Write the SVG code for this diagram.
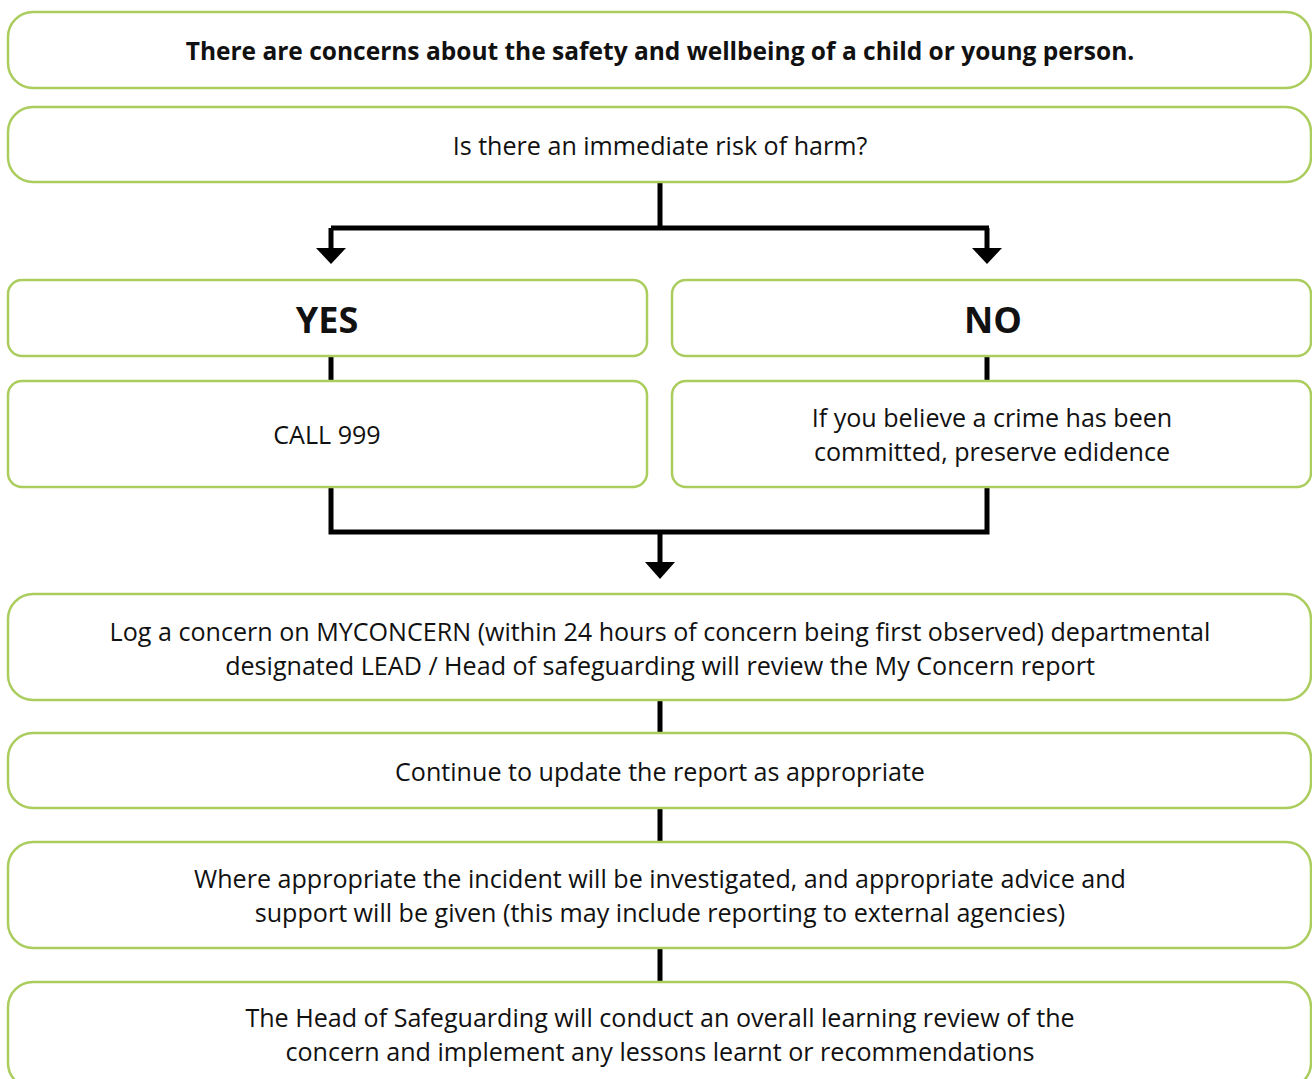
<svg xmlns="http://www.w3.org/2000/svg" width="1312" height="1079" viewBox="0 0 1312 1079">
<style>
.box{fill:#fff;stroke:#aacd5e;stroke-width:2.5}
.t{font-family:"Open Sans","Noto Sans",sans-serif;font-size:25.1px;fill:#111;text-anchor:middle}
.b{font-weight:bold;font-size:24.5px}
.big{font-size:36px;font-weight:bold}
.c{stroke:#000;stroke-width:5;fill:none}
.ah{fill:#000}
</style>
<rect width="1312" height="1079" fill="#fff"/>
<g id="connectors">
<path class="c" d="M660 183V228M331 228H989M331 228V250M987 228V250"/>
<polygon class="ah" points="316,248 346,248 331,264"/>
<polygon class="ah" points="972,248 1002,248 987,264"/>
<path class="c" d="M331 356V381M987 356V381"/>
<path class="c" d="M331 487V532H987V487M660 532V564"/>
<polygon class="ah" points="645,562 675,562 660,579"/>
<path class="c" d="M660 700V733M660 808V842M660 948V982"/>
</g>
<g id="n1"><rect class="box" x="8" y="12" width="1303" height="76" rx="25"/><text class="t b" x="660" y="60">There are concerns about the safety and wellbeing of a child or young person.</text></g>
<g id="n2"><rect class="box" x="8" y="107" width="1303" height="75" rx="25"/><text class="t" x="660" y="155">Is there an immediate risk of harm?</text></g>
<g id="yes"><rect class="box" x="8" y="280" width="639" height="76" rx="14"/><text class="t big" x="327" y="333">YES</text></g>
<g id="no"><rect class="box" x="672" y="280" width="639" height="76" rx="14"/><text class="t big" x="993" y="333">NO</text></g>
<g id="call"><rect class="box" x="8" y="381" width="639" height="106" rx="14"/><text class="t" x="327" y="444">CALL 999</text></g>
<g id="crime"><rect class="box" x="672" y="381" width="639" height="106" rx="14"/><text class="t" x="992" y="427">If you believe a crime has been</text><text class="t" x="992" y="461">committed, preserve edidence</text></g>
<g id="log"><rect class="box" x="8" y="594" width="1303" height="106" rx="25"/><text class="t" x="660" y="641">Log a concern on MYCONCERN (within 24 hours of concern being first observed) departmental</text><text class="t" x="660" y="675">designated LEAD / Head of safeguarding will review the My Concern report</text></g>
<g id="cont"><rect class="box" x="8" y="733" width="1303" height="75" rx="25"/><text class="t" x="660" y="781">Continue to update the report as appropriate</text></g>
<g id="where"><rect class="box" x="8" y="842" width="1303" height="106" rx="25"/><text class="t" x="660" y="888">Where appropriate the incident will be investigated, and appropriate advice and</text><text class="t" x="660" y="922">support will be given (this may include reporting to external agencies)</text></g>
<g id="head"><rect class="box" x="8" y="982" width="1303" height="106" rx="25"/><text class="t" x="660" y="1027">The Head of Safeguarding will conduct an overall learning review of the</text><text class="t" x="660" y="1061">concern and implement any lessons learnt or recommendations</text></g>
</svg>
